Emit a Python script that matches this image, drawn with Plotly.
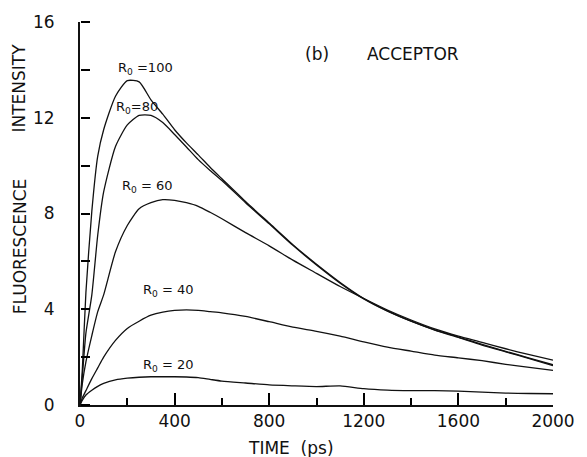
import plotly.graph_objects as go

# Time grid (ps)
time_ps = [0, 10, 25, 50, 75, 100, 150, 200, 250, 300, 350, 400, 450, 500, 550, 600, 700,
           800, 900, 1000, 1100, 1200, 1300, 1400, 1500, 1600, 1700, 1800, 1900, 2000]

# Acceptor fluorescence intensity for each R0
r0_100 = [0, 1.5, 4.7, 8.1, 10.4, 11.5, 12.9, 13.55, 13.5, 12.75, 12.15, 11.5, 10.95, 10.45,
          9.93, 9.45, 8.5, 7.6, 6.7, 5.88, 5.12, 4.45, 3.93, 3.5, 3.14, 2.84, 2.53, 2.24, 1.96, 1.68]
r0_80 = [0, 1.2, 3.0, 4.6, 7.1, 8.9, 10.8, 11.7, 12.1, 12.1, 11.8, 11.3, 10.78, 10.25,
         9.8, 9.38, 8.45, 7.57, 6.67, 5.85, 5.09, 4.43, 3.92, 3.5, 3.13, 2.82, 2.5, 2.22, 1.94, 1.64]
r0_60 = [0, 0.9, 1.8, 2.9, 3.9, 4.6, 6.4, 7.5, 8.2, 8.45, 8.58, 8.55, 8.45, 8.3,
         8.05, 7.78, 7.2, 6.65, 6.05, 5.5, 4.95, 4.45, 3.97, 3.55, 3.18, 2.88, 2.62, 2.35, 2.1, 1.87]
r0_40 = [0, 0.3, 0.6, 1.1, 1.55, 2.0, 2.7, 3.2, 3.5, 3.75, 3.88, 3.95, 3.97, 3.95,
         3.9, 3.85, 3.7, 3.48, 3.25, 3.08, 2.88, 2.64, 2.42, 2.25, 2.08, 1.97, 1.85, 1.7, 1.57, 1.45]
r0_20 = [0, 0.2, 0.42, 0.62, 0.78, 0.9, 1.05, 1.12, 1.16, 1.18, 1.18, 1.18, 1.17, 1.14,
         1.07, 1.0, 0.92, 0.84, 0.8, 0.77, 0.8, 0.68, 0.62, 0.6, 0.6, 0.58, 0.54, 0.5, 0.48, 0.47]

series = [("R0=100", r0_100), ("R0=80", r0_80), ("R0=60", r0_60),
          ("R0=40", r0_40), ("R0=20", r0_20)]

x_major = [0, 400, 800, 1200, 1600, 2000]
x_major_text = ["0", "400", "800", "1200", "1600", "2000"]
x_minor = [200, 600, 1000, 1400, 1800]
y_major = [0, 4, 8, 12, 16]
y_major_text = ["0", "4", "8", "12", "16"]
y_all = [0, 2, 4, 6, 8, 10, 12, 14, 16]

curve_labels = [
    ("R<sub>0</sub> =100", 277, 14.05),
    ("R<sub>0</sub>=80", 242, 12.43),
    ("R<sub>0</sub> = 60", 284, 9.14),
    ("R<sub>0</sub> = 40", 374, 4.78),
    ("R<sub>0</sub> = 20", 376, 1.66),
]

FONT = "DejaVu Sans"
INK = "#111111"

fig = go.Figure()
for i, (name, vals) in enumerate(series):
    last = i == len(series) - 1
    fig.add_trace(go.Scatter(x=time_ps, y=vals, mode="lines", name=name,
                             xaxis="x2" if last else "x", yaxis="y2" if last else "y",
                             line=dict(color=INK, width=1.3, shape="spline", smoothing=0.6),
                             showlegend=False, hoverinfo="skip"))

for txt, xv, yv in curve_labels:
    fig.add_annotation(x=xv, y=yv, text=txt, showarrow=False,
                       font=dict(family=FONT, size=13, color=INK),
                       xanchor="center", yanchor="middle")

fig.add_annotation(xref="paper", yref="paper", x=(318 - 80) / 476, y=(405 - 52) / 385,
                   text="(b)", showarrow=False, xanchor="center", yanchor="middle",
                   font=dict(family=FONT, size=17, color=INK))
fig.add_annotation(xref="paper", yref="paper", x=(415.5 - 80) / 476, y=(405 - 52) / 385,
                   text="ACCEPTOR", showarrow=False, xanchor="center", yanchor="middle",
                   font=dict(family=FONT, size=17, color=INK))
fig.add_annotation(xref="paper", yref="paper", x=(292 - 80) / 476, y=(405 - 448) / 385,
                   text="TIME  (ps)", showarrow=False, xanchor="center", yanchor="middle",
                   font=dict(family=FONT, size=17, color=INK))
fig.add_annotation(xref="paper", yref="paper", x=(19 - 80) / 476, y=(405 - 86.5) / 385,
                   text="INTENSITY", showarrow=False, textangle=-90,
                   xanchor="center", yanchor="middle",
                   font=dict(family=FONT, size=17, color=INK))
fig.add_annotation(xref="paper", yref="paper", x=(19 - 80) / 476, y=(405 - 245) / 385,
                   text="FLUORESCENCE", showarrow=False, textangle=-90,
                   xanchor="center", yanchor="middle",
                   font=dict(family=FONT, size=17, color=INK))

fig.update_layout(
    width=587, height=457,
    margin=dict(l=80, r=31, t=20, b=52),
    paper_bgcolor="white", plot_bgcolor="white",
    xaxis=dict(range=[0, 2000], tickmode="array", tickvals=x_major, ticktext=x_major_text,
               ticks="inside", ticklen=12, tickwidth=1.5, tickcolor="black",
               showline=True, linecolor=INK, linewidth=2, showgrid=False, zeroline=False,
               tickfont=dict(family=FONT, size=17, color=INK),
               ticklabeloverflow="allow"),
    yaxis=dict(range=[0, 16], tickmode="array", tickvals=y_major, ticktext=y_major_text,
               ticks="", showline=True, linecolor=INK, linewidth=2,
               showgrid=False, zeroline=False,
               tickfont=dict(family=FONT, size=17, color=INK),
               ticklabelstandoff=20),
    xaxis2=dict(range=[0, 2000], overlaying="x", side="top", anchor="free", position=0,
                tickmode="array", tickvals=x_minor, ticks="outside", ticklen=7,
                tickwidth=1.5, tickcolor="black", showticklabels=False,
                showline=False, showgrid=False, zeroline=False),
    yaxis2=dict(range=[0, 16], overlaying="y", side="right", anchor="free", position=0,
                tickmode="array", tickvals=y_all, ticks="outside", ticklen=9,
                tickwidth=1.5, tickcolor="black", showticklabels=False,
                showline=False, showgrid=False, zeroline=False),
)

fig.write_html("out.html")
